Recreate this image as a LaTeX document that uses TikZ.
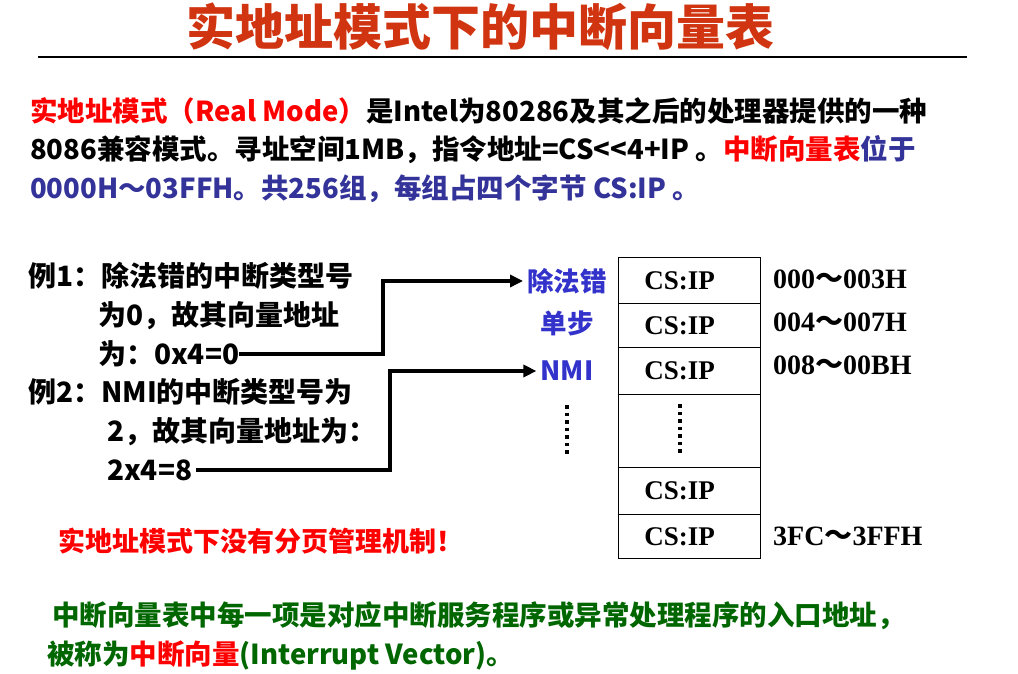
\documentclass[tikz,border=0pt]{standalone}
\usepackage{fontspec}
\usepackage{graphicx}
\usetikzlibrary{arrows.meta}
\setmainfont{Noto Sans CJK SC}
\newfontfamily\tms{Liberation Serif}
\newfontfamily\cjkreg{Noto Sans CJK SC}
\definecolor{titlered}{RGB}{208,52,16}
\definecolor{hired}{RGB}{255,0,0}
\definecolor{navy}{RGB}{51,51,153}
\definecolor{lblblue}{RGB}{51,51,204}
\definecolor{dkgreen}{RGB}{0,102,0}
\tikzset{
  txt/.style={anchor=west, inner sep=0pt, font=\bfseries\fontsize{27.5}{30}\selectfont},
  ex/.style={anchor=west, inner sep=0pt, font=\bfseries\fontsize{28}{30}\selectfont},
  lbl/.style={inner sep=4pt, text=lblblue, font=\bfseries\fontsize{26.5}{30}\selectfont},
  cell/.style={draw, line width=1.2pt, anchor=north west, minimum width=142pt,
               inner sep=0pt, font=\tms\bfseries\fontsize{27}{30}\selectfont},
  addr/.style={anchor=west, inner sep=0pt, font=\tms\bfseries\fontsize{28}{30}\selectfont},
  arr/.style={line width=4pt, -{Triangle[length=13pt,width=12pt]}},
  dots/.style={line width=3.5pt, dash pattern=on 3.5pt off 4pt},
}
\newcommand{\tl}{{\cjkreg ～}}
\newcommand{\csip}{CS:IP\kern20pt\relax}
\begin{document}
\begin{tikzpicture}[x=1pt,y=-1pt]
\useasboundingbox (0,0) rectangle (1018,674);
\fill[white] (0,0) rectangle (1018,674);

% title and rule
\node[anchor=center, inner sep=0pt, text=titlered, font=\bfseries\fontsize{49}{52}\selectfont]
  (title) at (480,27) {实地址模式下的中断向量表};
\draw[line width=1.2pt] (38,57) -- (967,57);

% introduction paragraph
\node[txt] (p1) at (30,111) {\textcolor{hired}{实地址模式（Real Mode）}是Intel为80286及其之后的处理器提供的一种};
\node[txt] (p2) at (30,150) {8086兼容模式。寻址空间1MB，指令地址=CS<{}<4+IP 。\textcolor{hired}{中断向量表}\textcolor{navy}{位于}};
\node[txt, text=navy] (p3) at (30,189) {0000H～03FFH。共256组，每组占四个字节 CS:IP 。};

% examples
\node[ex] (e1a) at (28,276) {例1：除法错的中断类型号};
\node[ex] (e1b) at (98,316) {为0，故其向量地址};
\node[ex] (e1c) at (98,354) {为：0x4=0};
\node[ex] (e2a) at (28,392) {例2：NMI的中断类型号为};
\node[ex] (e2b) at (107,432) {2，故其向量地址为：};
\node[ex] (e2c) at (107,470) {2x4=8};

% interrupt names
\node[lbl] (div) at (567,281) {除法错};
\node[lbl] (step) at (567,323) {单步};
\node[lbl] (nmi) at (567,371) {NMI};
\coordinate (ld1) at (567,405);
\coordinate (ld2) at (567,456);
\draw[dots] (ld1) -- (ld2);

% connectors
\coordinate (j1) at (383,0);
\coordinate (j2) at (390,0);
\draw[arr] (e1c.east) -- (e1c.east -| j1) -- (j1 |- div.west) -- (div.west);
\draw[arr] ([xshift=4pt]e2c.east) -- (e2c.east -| j2) -- (j2 |- nmi.west) -- (nmi.west);

% vector table
\node[cell, minimum height=46pt] (r1) at (618,257) {\csip};
\node[cell, minimum height=44pt] (r2) at (618,303) {\csip};
\node[cell, minimum height=47pt] (r3) at (618,347) {\csip};
\node[cell, minimum height=73pt] (r4) at (618,394) {};
\node[cell, minimum height=47pt] (r5) at (618,467) {\csip};
\node[cell, minimum height=44pt] (r6) at (618,514) {\csip};
\coordinate (td1) at (680,404);
\coordinate (td2) at (680,456);
\draw[dots] (td1) -- (td2);

% address ranges
\node[addr] (a1) at (773,279) {000\tl 003H};
\node[addr] (a2) at (773,322) {004\tl 007H};
\node[addr] (a3) at (773,365) {008\tl 00BH};
\node[addr] (a4) at (773,536) {3FC\tl 3FFH};

% notes
\node[txt, text=hired, font=\bfseries\fontsize{27}{30}\selectfont] (note) at (58,541) {实地址模式下没有分页管理机制！};
\node[txt, text=dkgreen] (g1) at (52,616) {中断向量表中每一项是对应中断服务程序或异常处理程序的入口地址，};
\node[txt, text=dkgreen] (g2) at (47,655) {被称为\textcolor{hired}{中断向量}(Interrupt Vector)。};
\end{tikzpicture}
\end{document}
